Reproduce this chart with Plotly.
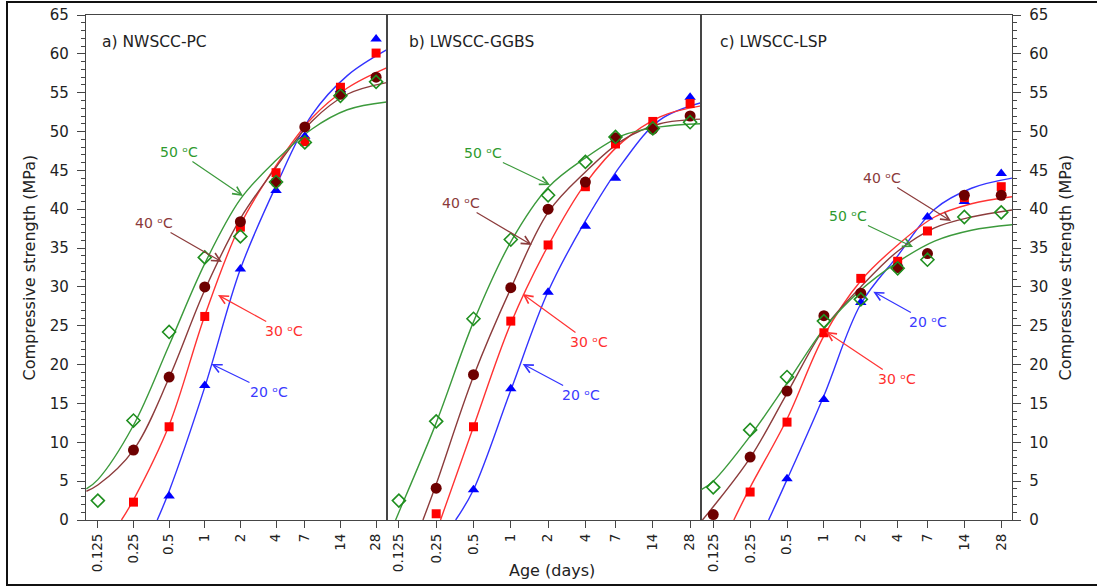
import plotly.graph_objects as go

# ---------------- data ----------------
AGES = [0.125, 0.25, 0.5, 1, 2, 4, 7, 14, 28]
AGE_LABELS = ["0.125", "0.25", "0.5", "1", "2", "4", "7", "14", "28"]
PANEL_TITLES = ["a) NWSCC-PC", "b) LWSCC-GGBS", "c) LWSCC-LSP"]
TEMPS = ["20", "30", "40", "50"]

# measured compressive strength (MPa) at each age
pc_20 = [None, None, 3.1, 17.3, 32.3, 42.4, 49.4, 55.4, 61.9]
pc_30 = [None, 2.3, 12.0, 26.2, 37.7, 44.7, 48.7, 55.7, 60.1]
pc_40 = [None, 9.0, 18.4, 30.0, 38.4, 43.5, 50.6, 54.8, 57.0]
pc_50 = [2.5, 12.8, 24.2, 33.8, 36.5, 43.5, 48.6, 54.6, 56.4]

ggbs_20 = [None, None, 3.9, 16.9, 29.3, 37.8, 44.0, 50.4, 54.4]
ggbs_30 = [None, 0.8, 12.0, 25.6, 35.4, 42.9, 48.4, 51.3, 53.6]
ggbs_40 = [None, 4.1, 18.7, 29.9, 40.0, 43.5, 49.2, 50.3, 52.0]
ggbs_50 = [2.5, 12.7, 25.9, 36.1, 41.8, 46.1, 49.3, 50.4, 51.2]

lsp_20 = [None, None, 5.3, 15.5, 28.0, 33.0, 39.0, 41.0, 44.6]
lsp_30 = [None, 3.6, 12.6, 24.1, 31.1, 33.3, 37.2, 41.5, 42.9]
lsp_40 = [0.7, 8.1, 16.6, 26.3, 29.2, 32.5, 34.3, 41.8, 41.8]
lsp_50 = [4.2, 11.6, 18.4, 25.6, 28.4, 32.4, 33.5, 39.0, 39.6]

# fitted strength-development curves (age in days, strength in MPa)
fit_pc_20_t = [0.397, 0.5, 1, 2, 4, 8, 16, 34.3]
fit_pc_20 = [0, 3.7, 17.1, 32.3, 43.0, 52.1, 57.2, 60.5]
fit_pc_30_t = [0.198, 0.25, 0.5, 1, 2, 4, 8, 16, 34.3]
fit_pc_30 = [0, 2.6, 12.2, 26.3, 38.0, 45.6, 51.7, 55.6, 58.2]
fit_pc_40_t = [0.1, 0.125, 0.25, 0.5, 1, 2, 4, 8, 16, 34.3]
fit_pc_40 = [3.7, 4.5, 9.0, 18.3, 29.6, 38.8, 45.4, 51.3, 54.8, 56.3]
fit_pc_50_t = [0.1, 0.125, 0.25, 0.5, 1, 2, 4, 8, 16, 34.3]
fit_pc_50 = [4.0, 5.2, 12.2, 22.5, 33.0, 41.3, 46.3, 50.3, 52.8, 53.8]

fit_ggbs_20_t = [0.359, 0.5, 1, 2, 4, 8, 16, 34.3]
fit_ggbs_20 = [0, 3.9, 16.7, 29.4, 38.5, 46.0, 51.5, 53.7]
fit_ggbs_30_t = [0.271, 0.5, 1, 2, 4, 8, 16, 34.3]
fit_ggbs_30 = [0, 12.0, 25.3, 35.3, 43.3, 48.7, 51.9, 53.3]
fit_ggbs_40_t = [0.1955, 0.25, 0.5, 1, 2, 4, 8, 16, 34.3]
fit_ggbs_40 = [0, 4.6, 18.5, 29.8, 39.6, 44.8, 48.9, 51.0, 51.6]
fit_ggbs_50_t = [0.1176, 0.125, 0.25, 0.5, 1, 2, 4, 8, 16, 34.3]
fit_ggbs_50 = [0, 1.0, 12.5, 25.5, 35.8, 42.8, 46.6, 49.5, 50.6, 51.0]

fit_lsp_20_t = [0.354, 0.5, 1, 2, 4, 8, 16, 34.3]
fit_lsp_20 = [0, 5.2, 16.0, 27.8, 34.0, 40.0, 42.7, 44.0]
fit_lsp_30_t = [0.184, 0.25, 0.5, 1, 2, 4, 8, 16, 34.3]
fit_lsp_30 = [0, 4.2, 13.0, 23.7, 30.8, 35.4, 39.0, 40.7, 41.6]
fit_lsp_40_t = [0.102, 0.125, 0.25, 0.5, 1, 2, 4, 8, 16, 34.3]
fit_lsp_40 = [0, 1.7, 8.0, 16.3, 24.6, 30.0, 34.6, 37.6, 39.0, 39.9]
fit_lsp_50_t = [0.1, 0.125, 0.25, 0.5, 1, 2, 4, 8, 16, 34.3]
fit_lsp_50 = [3.9, 5.0, 10.8, 17.6, 24.6, 29.6, 33.2, 35.9, 37.3, 38.0]

# ---------------- styling ----------------
W, H = 1097, 588
FONT = "DejaVu Sans"
AXIS_COL = "#454545"

LINE_COL = {"20": "#3333ff", "30": "#ff3333", "40": "#8c3c3c", "50": "#3c9a3c"}
MARK_COL = {"20": "#0000ff", "30": "#ff0000", "40": "#6e0000", "50": "#1f8f1f"}
TEXT_COL = {"20": "#3a3aff", "30": "#ff3030", "40": "#8b3a3a", "50": "#2e9a2e"}
SYMBOL = {"20": "triangle-up", "30": "square", "40": "circle", "50": "diamond-open"}
MSIZE = {"20": 10, "30": 9, "40": 11, "50": 10}


def px_x(p):
    return p / W


def px_y(p):
    return 1 - p / H


measured = [
    {"20": pc_20, "30": pc_30, "40": pc_40, "50": pc_50},
    {"20": ggbs_20, "30": ggbs_30, "40": ggbs_40, "50": ggbs_50},
    {"20": lsp_20, "30": lsp_30, "40": lsp_40, "50": lsp_50},
]
fitted = [
    {"20": (fit_pc_20_t, fit_pc_20), "30": (fit_pc_30_t, fit_pc_30),
     "40": (fit_pc_40_t, fit_pc_40), "50": (fit_pc_50_t, fit_pc_50)},
    {"20": (fit_ggbs_20_t, fit_ggbs_20), "30": (fit_ggbs_30_t, fit_ggbs_30),
     "40": (fit_ggbs_40_t, fit_ggbs_40), "50": (fit_ggbs_50_t, fit_ggbs_50)},
    {"20": (fit_lsp_20_t, fit_lsp_20), "30": (fit_lsp_30_t, fit_lsp_30),
     "40": (fit_lsp_40_t, fit_lsp_40), "50": (fit_lsp_50_t, fit_lsp_50)},
]

# panel edges in pixels
X_EDGES = [(86, 386.5), (386.5, 701), (701, 1012)]
Y_TOP, Y_BOT = 15, 520
X_RANGE = [-1.003, 1.535]

fig = go.Figure()

for i in range(3):
    xa = "x" if i == 0 else f"x{i + 1}"
    ya = "y" if i == 0 else f"y{i + 1}"
    # curves underneath
    for t in TEMPS:
        ages, vals = fitted[i][t]
        fig.add_trace(go.Scatter(
            x=ages, y=vals, mode="lines", xaxis=xa, yaxis=ya,
            line=dict(color=LINE_COL[t], width=1.4, shape="spline", smoothing=1.0),
            showlegend=False, hoverinfo="skip"))
    # measured points on top
    for t in TEMPS:
        fig.add_trace(go.Scatter(
            x=AGES, y=measured[i][t], mode="markers", xaxis=xa, yaxis=ya,
            marker=dict(symbol=SYMBOL[t], size=MSIZE[t], color=MARK_COL[t],
                        line=dict(color=MARK_COL[t], width=1.6 if t == "50" else 0)),
            cliponaxis=False, showlegend=False))

layout = dict(
    width=W, height=H, autosize=False,
    margin=dict(l=0, r=0, t=0, b=0, pad=0, autoexpand=False),
    paper_bgcolor="white", plot_bgcolor="white",
    font=dict(family=FONT, size=14, color="#222"),
    showlegend=False,
)

y_dom = [px_y(Y_BOT), px_y(Y_TOP)]
for i in range(3):
    xk = "xaxis" if i == 0 else f"xaxis{i + 1}"
    yk = "yaxis" if i == 0 else f"yaxis{i + 1}"
    x0, x1 = X_EDGES[i]
    layout[xk] = dict(
        domain=[px_x(x0), px_x(x1)], type="log", range=X_RANGE,
        anchor="y" if i == 0 else f"y{i + 1}", automargin=False,
        tickvals=AGES, ticktext=AGE_LABELS, tickangle=-90,
        ticks="outside", ticklen=7, tickwidth=1.2, tickcolor=AXIS_COL,
        tickfont=dict(family=FONT, size=13.5, color="#222"),
        showline=True, linecolor=AXIS_COL, linewidth=1.3, mirror=True,
        showgrid=False, zeroline=False,
    )
    ycfg = dict(
        domain=y_dom, range=[0, 65], automargin=False,
        anchor="x" if i == 0 else f"x{i + 1}",
        showline=True, linecolor=AXIS_COL, linewidth=1.3, mirror=True,
        showgrid=False, zeroline=False,
    )
    if i == 1:
        ycfg.update(showticklabels=False, ticks="")
    else:
        ycfg.update(
            side="left" if i == 0 else "right",
            tick0=0, dtick=5, ticks="outside", ticklen=8, tickwidth=1.2,
            tickcolor=AXIS_COL, ticklabelstandoff=5,
            tickfont=dict(family=FONT, size=15, color="#222"),
            minor=dict(dtick=1, ticks="outside", ticklen=4, tickwidth=1,
                       tickcolor=AXIS_COL),
        )
    layout[yk] = ycfg

annotations = []

# panel titles
for title, lx in zip(PANEL_TITLES, [100, 407, 718]):
    annotations.append(dict(
        x=px_x(lx), y=px_y(42), xref="paper", yref="paper",
        xanchor="left", yanchor="middle", showarrow=False,
        text=title, font=dict(family=FONT, size=15.5, color="#222")))

# temperature call-outs: (temp, text centre px, arrow tip px)
callouts = [
    ("50", (178.5, 152), (243, 196)),
    ("40", (154, 223), (222, 262)),
    ("30", (283.5, 331), (218, 295)),
    ("20", (269, 392), (211.5, 364)),
    ("50", (483, 153), (550, 185)),
    ("40", (460.5, 203), (531.7, 245)),
    ("30", (588.5, 342), (522.7, 294)),
    ("20", (581, 395), (522.7, 364)),
    ("40", (882, 178), (951, 221)),
    ("50", (848, 216), (913, 247)),
    ("20", (928, 322), (873.3, 291.7)),
    ("30", (897, 379), (826, 331.7)),
]
for t, (cx, cy), (tx, ty) in callouts:
    annotations.append(dict(
        x=px_x(tx), y=px_y(ty), xref="paper", yref="paper",
        ax=cx - tx, ay=cy - ty, axref="pixel", ayref="pixel",
        text=f"{t} \u1d52C", showarrow=True,
        arrowhead=5, arrowsize=1.4, arrowwidth=1.2, arrowcolor=LINE_COL[t],
        standoff=0, startstandoff=0,
        font=dict(family=FONT, size=14, color=TEXT_COL[t])))

# axis titles
for xc in (29, 1065):
    annotations.append(dict(
        x=px_x(xc), y=px_y((Y_TOP + Y_BOT) / 2), xref="paper", yref="paper",
        xanchor="center", yanchor="middle",
        text="Compressive strength (MPa)", textangle=-90, showarrow=False,
        font=dict(family=FONT, size=16, color="#222")))
annotations.append(dict(
    x=px_x(552), y=px_y(570), xref="paper", yref="paper",
    xanchor="center", yanchor="middle",
    text="Age (days)", showarrow=False,
    font=dict(family=FONT, size=16, color="#222")))

layout["annotations"] = annotations

# outer frame
layout["shapes"] = [dict(
    type="rect", xref="paper", yref="paper",
    x0=px_x(7), x1=px_x(1104), y0=px_y(585), y1=px_y(2),
    line=dict(color="#111", width=2), fillcolor="rgba(0,0,0,0)", layer="above")]

fig.update_layout(**layout)
fig.write_html("out.html")
